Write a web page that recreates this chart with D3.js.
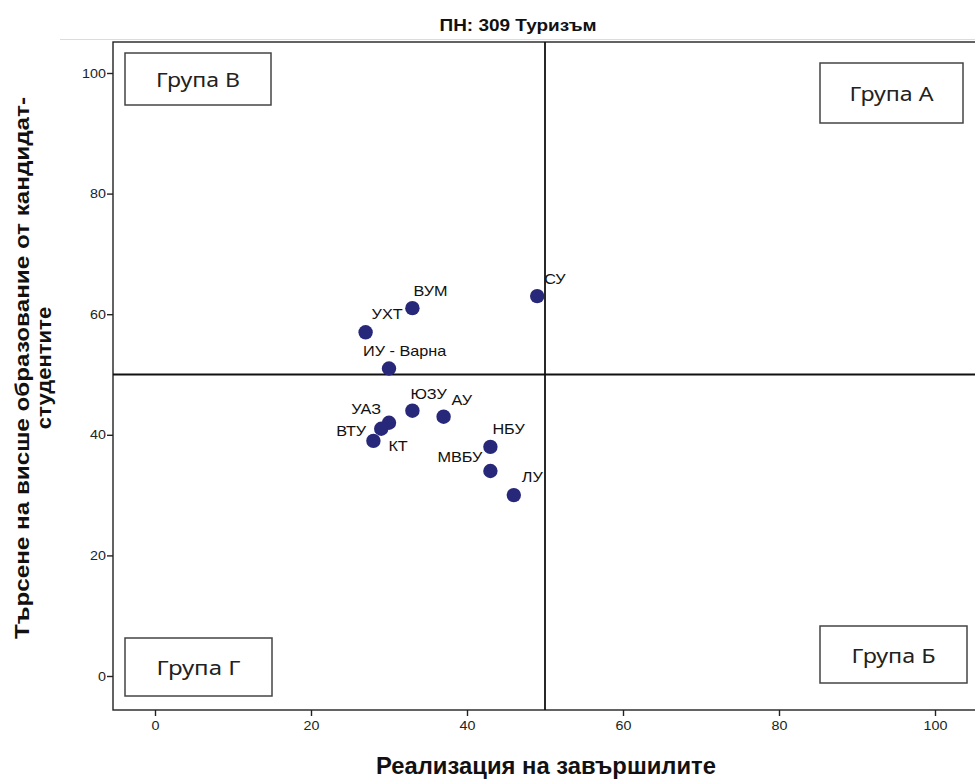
<!DOCTYPE html>
<html><head><meta charset="utf-8">
<script src="https://cdn.jsdelivr.net/npm/d3@7"></script>
<style>body{margin:0;background:#fff}svg{display:block}</style>
</head><body>
<svg id="c" width="975" height="782"></svg>
<script>
const universities = ["СУ","ВУМ","УХТ","ИУ - Варна","ЮЗУ","АУ","УАЗ","ВТУ","КТ","НБУ","МВБУ","ЛУ"];
const realization = [49,33,27,30,33,37,30,29,28,43,43,46];
const demand      = [63,61,57,51,44,43,42,41,39,38,34,30];
const xTicks = [0,20,40,60,80,100];
const yTicks = [0,20,40,60,80,100];
const groups = ["Група А","Група Б","Група В","Група Г"];
const title = "ПН: 309 Туризъм";
const xTitle = "Реализация на завършилите";
const yTitle = ["Търсене на висше образование от кандидат-","студентите"];

// label offsets [dx, dy, anchor]
const labelPos = {
  "СУ":[7,-12,"start"],"ВУМ":[1,-12,"start"],"УХТ":[6,-13,"start"],
  "ИУ - Варна":[-26,-12,"start"],"ЮЗУ":[-2,-12,"start"],"АУ":[8,-12,"start"],
  "УАЗ":[-8,-9,"end"],"ВТУ":[-15,7,"end"],"КТ":[15,10,"start"],
  "НБУ":[2,-13,"start"],"МВБУ":[-8,-9,"end"],"ЛУ":[8,-13,"start"]
};

function stretch(sel, f){
  sel.each(function(){
    const L = this.getComputedTextLength();
    this.setAttribute("textLength", (L*f).toFixed(1));
    this.setAttribute("lengthAdjust","spacingAndGlyphs");
  });
}
function fitTo(sel, w){
  sel.attr("textLength", w).attr("lengthAdjust","spacingAndGlyphs");
}

const svg = d3.select("#c");
const x = d3.scaleLinear().domain([0,100]).range([155,935]);
const y = d3.scaleLinear().domain([0,100]).range([676,73]);
const pL = 113, pT = 42, pR = 985, pB = 710;
const sans = "'Liberation Sans',Arial,sans-serif";

// light top rule
svg.append("line").attr("x1",60).attr("x2",975).attr("y1",39.5).attr("y2",39.5)
  .attr("stroke","#dcdcdc").attr("stroke-width",1);

// title
svg.append("text").attr("x",518).attr("y",31).attr("text-anchor","middle")
  .attr("font-family",sans).attr("font-weight","bold").attr("font-size",17)
  .attr("fill","#111").text(title).call(fitTo,157);

// frame
svg.append("rect").attr("x",pL).attr("y",pT).attr("width",pR-pL).attr("height",pB-pT)
  .attr("fill","none").attr("stroke","#222").attr("stroke-width",1.4);

// axes
const xAxis = svg.append("g").attr("transform",`translate(0,${pB})`)
  .call(d3.axisBottom(x).tickValues(xTicks).tickSize(6).tickPadding(5));
const yAxis = svg.append("g").attr("transform",`translate(${pL},0)`)
  .call(d3.axisLeft(y).tickValues(yTicks).tickSize(6).tickPadding(1));
[xAxis,yAxis].forEach(a=>{
  a.select(".domain").remove();
  a.selectAll("line").attr("stroke","#222").attr("stroke-width",1.4);
  a.selectAll("text").attr("font-family",sans).attr("font-size",13).attr("fill","#222")
   .call(stretch,1.1);
});

// reference lines
svg.append("line").attr("x1",x(50)).attr("x2",x(50)).attr("y1",pT).attr("y2",pB)
  .attr("stroke","#111").attr("stroke-width",1.8);
svg.append("line").attr("x1",pL).attr("x2",pR).attr("y1",y(50)).attr("y2",y(50))
  .attr("stroke","#111").attr("stroke-width",1.8);

// group boxes
const boxes = [
  {t:groups[0], x0:820, y0:63, x1:963, y1:123},
  {t:groups[1], x0:820, y0:626, x1:967, y1:683},
  {t:groups[2], x0:125, y0:53, x1:271, y1:105},
  {t:groups[3], x0:125, y0:638, x1:272, y1:696}
];
const bg = svg.selectAll("g.box").data(boxes).join("g").attr("class","box");
bg.append("rect").attr("x",d=>d.x0).attr("y",d=>d.y0).attr("width",d=>d.x1-d.x0).attr("height",d=>d.y1-d.y0)
  .attr("fill","#fff").attr("stroke","#444").attr("stroke-width",1.5);
bg.append("text").attr("x",d=>(d.x0+d.x1)/2).attr("y",d=>(d.y0+d.y1)/2+8)
  .attr("text-anchor","middle").attr("font-family","'Noto Sans',Roboto,sans-serif")
  .attr("font-size",20).attr("fill","#222").text(d=>d.t).call(fitTo,84);

// points
const pts = universities.map((n,i)=>({n, x:realization[i], y:demand[i]}));
svg.selectAll("circle.pt").data(pts).join("circle").attr("class","pt")
  .attr("cx",d=>x(d.x)).attr("cy",d=>y(d.y)).attr("r",7.2).attr("fill","#28287a");
svg.selectAll("text.lbl").data(pts).join("text").attr("class","lbl")
  .attr("x",d=>x(d.x)+labelPos[d.n][0]).attr("y",d=>y(d.y)+labelPos[d.n][1])
  .attr("text-anchor",d=>labelPos[d.n][2])
  .attr("font-family",sans).attr("font-size",14.5)
  .attr("fill","#111").text(d=>d.n).call(stretch,1.12);

// axis titles
svg.append("text").attr("x",546).attr("y",774).attr("text-anchor","middle")
  .attr("font-family",sans).attr("font-weight","bold")
  .attr("font-size",23).attr("fill","#111").text(xTitle).call(fitTo,340);
const yt = svg.append("text").attr("transform","translate(0,368) rotate(-90)")
  .attr("text-anchor","middle").attr("font-family",sans)
  .attr("font-weight","bold").attr("font-size",21).attr("fill","#111");
yt.selectAll("tspan").data(yTitle).join("tspan").attr("x",0).attr("y",(d,i)=>29+i*22).text(d=>d);
yt.select("tspan").call(fitTo,542);
yt.selectAll("tspan").filter((d,i)=>i===1).call(stretch,1.05);
</script>
</body></html>
